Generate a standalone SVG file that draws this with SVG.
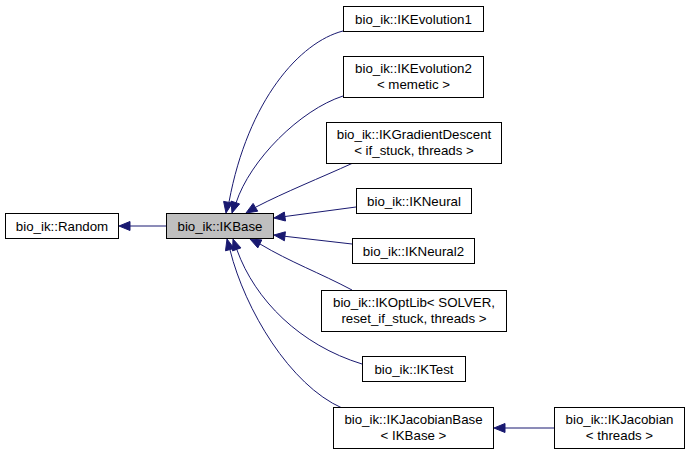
<svg xmlns="http://www.w3.org/2000/svg" width="689" height="454" viewBox="0 0 689 454">
<style>
.box{fill:#ffffff;stroke:#000000;stroke-width:1}
.cur{fill:#bfbfbf;stroke:#000000;stroke-width:1}
text{font-family:"Liberation Sans",Arial,sans-serif;font-size:13.3px;fill:#000000;text-anchor:middle}
.edge{fill:none;stroke:#191970;stroke-width:1}
.head{fill:#191970;stroke:#191970;stroke-width:1}
</style>
<rect x="0" y="0" width="689" height="454" fill="#ffffff"/>
<g id="connectors">
<path class="edge" d="M166,226 L130,226"/>
<polygon class="head" points="119,226 130,221.5 130,230.5"/>
<path class="edge" d="M343,31 C300,42 248,100 229,202"/>
<polygon class="head" points="226,213 232.4,203 223.6,201.4"/>
<path class="edge" d="M343,96 C300,110 250,160 236,203"/>
<polygon class="head" points="232,213 239.6,203.9 231,201.1"/>
<path class="edge" d="M353,163 C320,178 285,192 256,207"/>
<polygon class="head" points="246,213 257.7,211.2 253.1,203.4"/>
<path class="edge" d="M356,207 L285,216.5"/>
<polygon class="head" points="274,218 285.5,221 284.3,212"/>
<path class="edge" d="M352,244 L285,236.3"/>
<polygon class="head" points="274,235 284.4,240.8 285.4,231.8"/>
<path class="edge" d="M352,290 C320,273 290,262 260,244"/>
<polygon class="head" points="250,239 257.8,247.9 261.8,239.9"/>
<path class="edge" d="M362,364 C300,345 255,300 237,250"/>
<polygon class="head" points="233,239 232.5,250.9 240.9,247.9"/>
<path class="edge" d="M342,408 C290,385 245,310 230,250"/>
<polygon class="head" points="227,239 225.5,250.8 234.1,248.4"/>
<path class="edge" d="M554,428 L505,428"/>
<polygon class="head" points="494,428 505,423.5 505,432.5"/>
</g>
<g id="Random">
<rect class="box" x="5.5" y="213.5" width="113" height="25"/>
<text x="62" y="230.5">bio_ik::Random</text>
</g>
<g id="IKBase">
<rect class="cur" x="166.5" y="213.5" width="107" height="25"/>
<text x="220" y="230.5">bio_ik::IKBase</text>
</g>
<g id="IKEvolution1">
<rect class="box" x="343.5" y="6.5" width="140" height="25"/>
<text x="413.5" y="23.5">bio_ik::IKEvolution1</text>
</g>
<g id="IKEvolution2">
<rect class="box" x="343.5" y="56.5" width="140" height="41"/>
<text x="413.5" y="73">bio_ik::IKEvolution2</text>
<text x="413.5" y="89">&lt; memetic &gt;</text>
</g>
<g id="IKGradientDescent">
<rect class="box" x="326.5" y="122.5" width="175" height="41"/>
<text x="414" y="139">bio_ik::IKGradientDescent</text>
<text x="414" y="155">&lt; if_stuck, threads &gt;</text>
</g>
<g id="IKNeural">
<rect class="box" x="356.5" y="188.5" width="115" height="25"/>
<text x="414" y="205.5">bio_ik::IKNeural</text>
</g>
<g id="IKNeural2">
<rect class="box" x="352.5" y="238.5" width="122" height="25"/>
<text x="413.5" y="255.5">bio_ik::IKNeural2</text>
</g>
<g id="IKOptLib">
<rect class="box" x="321.5" y="290.5" width="185" height="41"/>
<text x="414" y="307">bio_ik::IKOptLib&lt; SOLVER,</text>
<text x="414" y="323">reset_if_stuck, threads &gt;</text>
</g>
<g id="IKTest">
<rect class="box" x="362.5" y="356.5" width="103" height="25"/>
<text x="414" y="373.5">bio_ik::IKTest</text>
</g>
<g id="IKJacobianBase">
<rect class="box" x="333.5" y="407.5" width="160" height="41"/>
<text x="413.5" y="424">bio_ik::IKJacobianBase</text>
<text x="413.5" y="440">&lt; IKBase &gt;</text>
</g>
<g id="IKJacobian">
<rect class="box" x="554.5" y="407.5" width="130" height="41"/>
<text x="619.5" y="424">bio_ik::IKJacobian</text>
<text x="619.5" y="440">&lt; threads &gt;</text>
</g>
</svg>
